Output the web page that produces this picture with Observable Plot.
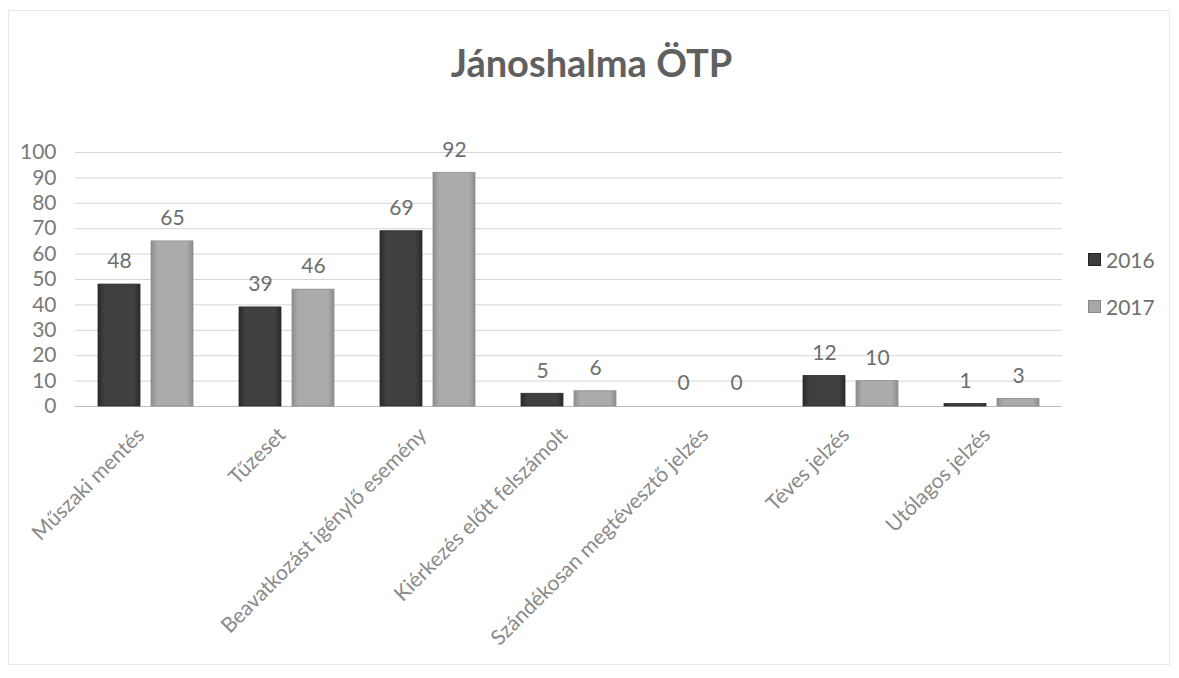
<!DOCTYPE html>
<html>
<head>
<meta charset="utf-8">
<script src="https://cdn.jsdelivr.net/npm/d3@7"></script>
<script src="https://cdn.jsdelivr.net/npm/@observablehq/plot@0.6"></script>
<style>
  html, body { margin: 0; padding: 0; background: #fff; }
  #wrap { position: relative; width: 1179px; height: 678px; overflow: hidden; font-family: Lato, "Open Sans", sans-serif; }
  #frame { position: absolute; left: 8px; top: 10px; width: 1162px; height: 655px; border: 1px solid #e8e8e8; box-sizing: border-box; }
  #title { height: 110px; line-height: 124px; text-align: center; font-size: 38px; font-weight: bold; color: #606060; padding-left: 4px; }
  #chart { position: relative; }
  .leg { position: absolute; left: 1088px; font-size: 21px; color: #707070; display: flex; align-items: center; }
  .leg span.sw { display: inline-block; width: 11px; height: 11px; margin-right: 5px; }
</style>
</head>
<body>
<div id="wrap">
  <div id="frame"></div>
  <div id="title">Jánoshalma ÖTP</div>
  <div id="chart"></div>
  <div class="leg" style="top:247px"><span class="sw" style="background:#3c3c3c;border:1px solid #222"></span>2016</div>
  <div class="leg" style="top:294px"><span class="sw" style="background:#a8a8a8;border:1px solid #888"></span>2017</div>
</div>
<script>
const categories = [
  "Műszaki mentés",
  "Tűzeset",
  "Beavatkozást igénylő esemény",
  "Kiérkezés előtt felszámolt",
  "Szándékosan megtévesztő jelzés",
  "Téves jelzés",
  "Utólagos jelzés"
];
const years = ["2016", "2017"];
const values2016 = [48, 39, 69, 5, 0, 12, 1];
const values2017 = [65, 46, 92, 6, 0, 10, 3];
const yTicks = [0, 10, 20, 30, 40, 50, 60, 70, 80, 90, 100];

const data = categories.flatMap((c, i) => [
  {cat: c, year: "2016", value: values2016[i]},
  {cat: c, year: "2017", value: values2017[i]}
]);

const svg = Plot.plot({
  width: 1179,
  height: 568,
  marginLeft: 74,
  marginRight: 117,
  marginTop: 42,
  marginBottom: 272,
  style: {fontFamily: "Lato, 'Open Sans', sans-serif", color: "#7a7a7a", background: "transparent"},
  fx: {domain: categories, padding: 0, label: null},
  x: {domain: years, paddingInner: 0.2, paddingOuter: 0.42, axis: null},
  y: {domain: [0, 100], label: null},
  marks: [
    Plot.gridY(yTicks, {stroke: "#d4d4d4", strokeOpacity: 1}),
    Plot.ruleY([0], {stroke: "#bdbdbd"}),
    Plot.barY(data.filter(d => d.year === "2016"), {fx: "cat", x: "year", y: "value", fill: "url(#g2016)", stroke: "#2a2a2a", strokeWidth: 0.8}),
    Plot.barY(data.filter(d => d.year === "2017"), {fx: "cat", x: "year", y: "value", fill: "url(#g2017)", stroke: "#8c8c8c", strokeWidth: 0.8}),
    Plot.text(data, {fx: "cat", x: "year", y: "value", text: d => String(d.value), dy: -23, fontSize: 21, fill: "#6e6e6e"}),
    Plot.axisY(yTicks, {tickSize: 0, tickPadding: 19, fontSize: 21, label: null, fill: "#7a7a7a"}),
    Plot.axisFx({anchor: "bottom", tickRotate: -45, tickSize: 0, tickPadding: 25, fontSize: 21, label: null, fill: "#8a8a8a", dx: -5})
  ]
});

const defs = d3.select(svg).insert("defs", ":first-child");
function grad(id, edge, mid) {
  const g = defs.append("linearGradient").attr("id", id).attr("x1", "0").attr("x2", "1").attr("y1", "0").attr("y2", "0");
  g.append("stop").attr("offset", "0").attr("stop-color", edge);
  g.append("stop").attr("offset", "0.15").attr("stop-color", mid);
  g.append("stop").attr("offset", "0.85").attr("stop-color", mid);
  g.append("stop").attr("offset", "1").attr("stop-color", edge);
}
grad("g2016", "#2a2a2a", "#404040");
grad("g2017", "#8e8e8e", "#ababab");

document.getElementById("chart").appendChild(svg);
</script>
</body>
</html>
